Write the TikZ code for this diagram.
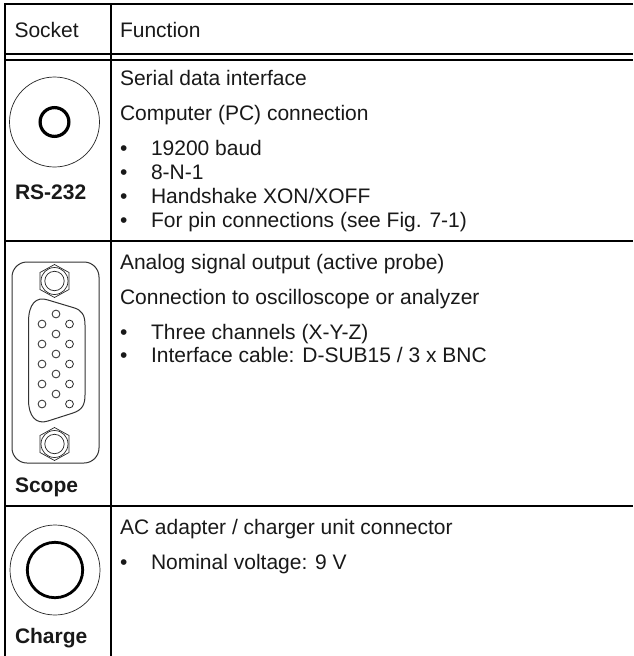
\documentclass[tikz,border=0pt]{standalone}
\usepackage{fontspec}
\setmainfont{Liberation Sans}
\tikzset{
 x=1pt,y=-1pt,
 rule/.style={line width=2pt,black},
 txt/.style={anchor=base west,inner sep=0pt,outer sep=0pt,font=\fontsize{21pt}{24pt}\selectfont,text=black!90},
 lbl/.style={txt,font=\fontsize{21pt}{24pt}\selectfont\bfseries},
 thin1/.style={line width=0.7pt,black!85},
 thick1/.style={line width=3.2pt,black},
 thick2/.style={line width=2.8pt,black},
 pin/.style={line width=0.8pt,black!85},
}
\begin{document}
\begin{tikzpicture}
\useasboundingbox (0,0) rectangle (633,656);
\fill[white] (0,0) rectangle (633,656);
% table rules
\draw[rule] (633,4) -- (5,4) -- (5,656);
\draw[rule] (110.5,4) -- (110.5,656);
\draw[rule] (5,53.5) -- (633,53.5);
\draw[rule] (5,60) -- (633,60);
\draw[rule] (5,241) -- (633,241);
\draw[rule] (5,506) -- (633,506);
% header
\node[txt] (h1) at (14.5,37) {Socket};
\node[txt] (h2) at (120,37) {Function};
% RS-232
\draw[thin1] (54.5,122) circle (45);
\draw[thick1] (54.5,122) circle (14.4);
\node[lbl] (l1) at (15,199) {RS-232};
\node[txt] (a1) at (120,85) {Serial data interface};
\node[txt] (a2) at (120,120) {Computer (PC) connection};
\foreach \y/\t in {155/19200 baud,179/8-N-1,203/{Handshake XON/XOFF},227/For pin connections (see Fig. 7-1)}{
 \node[txt] at (120,\y) {•};
 \node[txt] at (151,\y) {\t};
}
% Scope
\draw[line width=1pt,black!80] (12,277) arc[start angle=180,end angle=270,radius=15] -- (84,262) arc[start angle=-90,end angle=0,radius=15] -- (99,448) arc[start angle=0,end angle=90,radius=15] -- (27,463) arc[start angle=90,end angle=180,radius=15] -- cycle;
\foreach \c in {281,444}{
 \draw[thin1] (54.5,\c-16.5) -- (69,\c-8.5) -- (69,\c+8.5) -- (54.5,\c+16.5) -- (40,\c+8.5) -- (40,\c-8.5) -- cycle;
 \draw[thin1] (54.5,\c) circle (13.5);
 \draw[thin1] (54.5,\c) circle (9.7);
}
\draw[line width=1pt,black!80] (28.5,322) .. controls (28.5,304) and (36,296) .. (48,300) -- (73,307.5) .. controls (82,310) and (85,315) .. (85,325) -- (85,395) .. controls (85,405) and (82,410) .. (73,413) -- (48,421) .. controls (36,425) and (28.5,416) .. (28.5,400) -- cycle;
\foreach \y in {324,344,364,384,404}{
 \draw[pin] (42,\y) circle (3.9);
 \draw[pin] (69.5,\y) circle (3.9);
}
\foreach \y in {314,334,354,374,394}{
 \draw[pin] (56,\y) circle (3.9);
}
\node[lbl] (l2) at (15,492) {Scope};
\node[txt] (b1) at (120,269) {Analog signal output (active probe)};
\node[txt] (b2) at (120,304) {Connection to oscilloscope or analyzer};
\foreach \y/\t in {339/Three channels (X-Y-Z),362/{Interface cable: D-SUB15 / 3 x BNC}}{
 \node[txt] at (120,\y) {•};
 \node[txt] at (151,\y) {\t};
}
% Charge
\draw[thin1] (55,570) circle (45);
\draw[thick2] (55,570) circle (27.7);
\node[lbl] (l3) at (15,643) {Charge};
\node[txt] (c1) at (120,534) {AC adapter / charger unit connector};
\node[txt] (c2b) at (120,569) {•};
\node[txt] (c2) at (151,569) {Nominal voltage: 9 V};
\end{tikzpicture}
\end{document}
